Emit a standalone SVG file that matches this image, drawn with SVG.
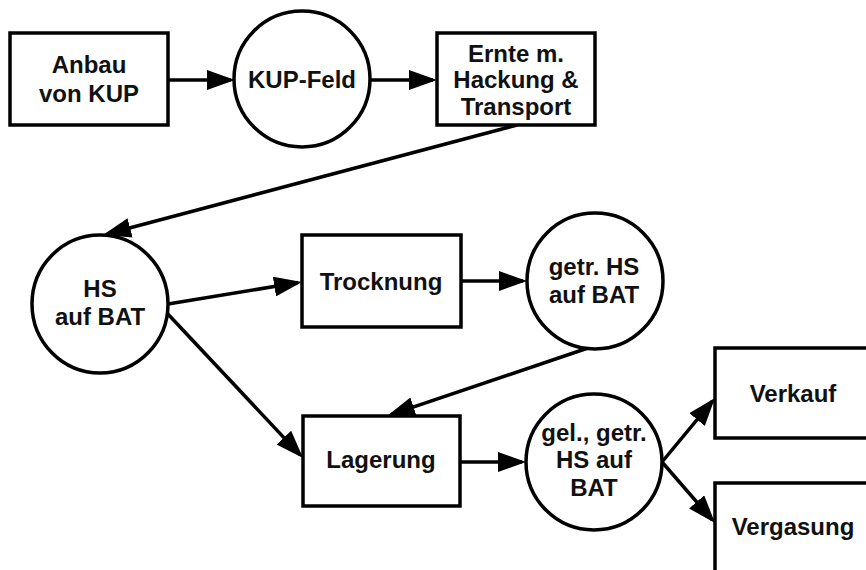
<svg xmlns="http://www.w3.org/2000/svg" width="866" height="570" viewBox="0 0 866 570">
  <style>
    .box { fill: #fff; stroke: #000; stroke-width: 3.5; }
    .lbl { font-family: "Liberation Sans", Arial, sans-serif; font-weight: bold; font-size: 24px; fill: #111; text-anchor: middle; }
    .edge { stroke: #000; stroke-width: 3.5; fill: none; marker-end: url(#arrow); }
  </style>
  <defs>
    <marker id="arrow" markerUnits="userSpaceOnUse" markerWidth="28" markerHeight="20" refX="24" refY="10" orient="auto" viewBox="0 0 28 20">
      <path d="M0,0 L28,10 L0,20 z" fill="#000"/>
    </marker>
  </defs>
  <rect width="866" height="570" fill="#fff"/>

  <g id="connectors">
    <line class="edge" x1="168" y1="80" x2="231" y2="80"/>
    <line class="edge" x1="370" y1="80" x2="433" y2="80"/>
    <line class="edge" x1="517" y1="125" x2="106.9" y2="234"/>
    <line class="edge" x1="168" y1="304" x2="298.1" y2="282.6"/>
    <line class="edge" x1="461" y1="281" x2="523" y2="281"/>
    <line class="edge" x1="588" y1="348" x2="390.8" y2="414.7"/>
    <line class="edge" x1="166" y1="312" x2="300.3" y2="455.1"/>
    <line class="edge" x1="460" y1="462" x2="522" y2="462"/>
    <line class="edge" x1="662" y1="462" x2="712.4" y2="401.1"/>
    <line class="edge" x1="662" y1="462" x2="712.4" y2="520"/>
  </g>

  <g id="anbau">
    <rect class="box" x="10" y="33" width="158" height="92"/>
    <text class="lbl" x="89" y="73">Anbau</text>
    <text class="lbl" x="89" y="102">von KUP</text>
  </g>

  <g id="kup-feld">
    <ellipse class="box" cx="302" cy="79" rx="68" ry="68"/>
    <text class="lbl" x="302" y="88">KUP-Feld</text>
  </g>

  <g id="ernte">
    <rect class="box" x="437" y="33" width="158" height="92"/>
    <text class="lbl" x="516" y="62">Ernte m.</text>
    <text class="lbl" x="516" y="88">Hackung &amp;</text>
    <text class="lbl" x="516" y="115">Transport</text>
  </g>

  <g id="hs-bat">
    <ellipse class="box" cx="100" cy="304" rx="68" ry="69"/>
    <text class="lbl" x="100" y="297">HS</text>
    <text class="lbl" x="100" y="325">auf BAT</text>
  </g>

  <g id="trocknung">
    <rect class="box" x="302" y="235" width="159" height="92"/>
    <text class="lbl" x="381" y="290">Trocknung</text>
  </g>

  <g id="getr-hs-bat">
    <ellipse class="box" cx="595" cy="281" rx="68" ry="68"/>
    <text class="lbl" x="594" y="275">getr. HS</text>
    <text class="lbl" x="594" y="303">auf BAT</text>
  </g>

  <g id="lagerung">
    <rect class="box" x="303" y="416" width="157" height="90"/>
    <text class="lbl" x="381" y="468">Lagerung</text>
  </g>

  <g id="gel-getr-hs-bat">
    <ellipse class="box" cx="594" cy="462" rx="68" ry="68"/>
    <text class="lbl" x="594" y="441">gel., getr.</text>
    <text class="lbl" x="594" y="468">HS auf</text>
    <text class="lbl" x="594" y="496">BAT</text>
  </g>

  <g id="verkauf">
    <rect class="box" x="715" y="348" width="157" height="90"/>
    <text class="lbl" x="793" y="402">Verkauf</text>
  </g>

  <g id="vergasung">
    <rect class="box" x="715" y="483" width="157" height="92"/>
    <text class="lbl" x="793" y="535">Vergasung</text>
  </g>
</svg>
